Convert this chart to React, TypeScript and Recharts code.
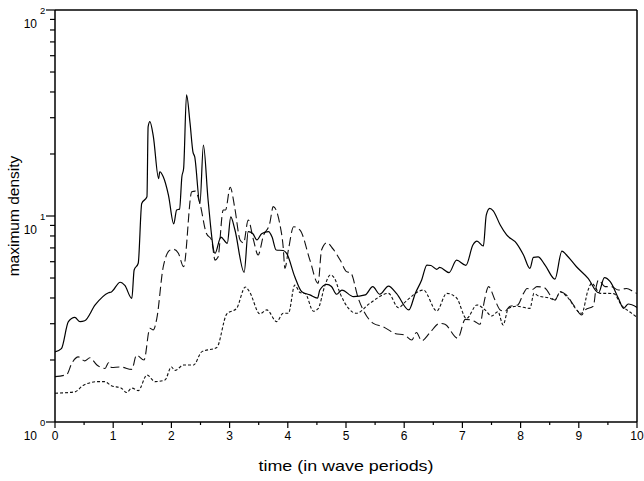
import React from 'react';
import { LineChart, Line, XAxis, YAxis, ReferenceLine, Label } from 'recharts';

// solid curve
const solidTime = [0, 0.11, 0.23, 0.34, 0.43, 0.51, 0.69, 0.92, 0.97, 1.12, 1.2, 1.32, 1.36, 1.43, 1.49, 1.58, 1.6, 1.63, 1.69, 1.78, 1.8, 1.86, 1.95, 2.04, 2.09, 2.14, 2.18, 2.21, 2.26, 2.32, 2.37, 2.4, 2.49, 2.55, 2.63, 2.75, 2.85, 2.96, 3.02, 3.09, 3.25, 3.32, 3.4, 3.47, 3.55, 3.67, 3.73, 3.8, 3.92, 3.98, 4.12, 4.24, 4.38, 4.51, 4.55, 4.67, 4.75, 4.84, 4.93, 5.13, 5.33, 5.46, 5.58, 5.73, 5.87, 6.08, 6.19, 6.3, 6.39, 6.46, 6.56, 6.61, 6.77, 6.9, 7.06, 7.18, 7.25, 7.36, 7.41, 7.47, 7.53, 7.65, 7.76, 7.93, 8.05, 8.16, 8.22, 8.3, 8.42, 8.59, 8.71, 8.78, 8.96, 9.16, 9.34, 9.44, 9.54, 9.68, 9.77, 9.85, 10];
const solidDensity = [2.19, 2.27, 3.07, 3.22, 3.07, 3.1, 3.7, 4.24, 4.28, 4.77, 4.6, 3.98, 5.47, 5.9, 11.5, 12.4, 27.1, 28.7, 24.3, 15.2, 16.4, 15.5, 12.6, 9.15, 10.7, 10.8, 15.5, 17.0, 38.7, 28.3, 20.5, 19.4, 11.5, 22.1, 12.0, 6.59, 7.9, 7.37, 9.9, 8.6, 5.33, 8.4, 8.2, 7.65, 8.2, 8.4, 7.9, 6.84, 6.8, 6.59, 5.07, 4.29, 4.14, 3.99, 4.37, 4.66, 4.55, 4.17, 4.37, 4.06, 4.14, 4.54, 4.17, 4.57, 4.2, 3.5, 4.21, 4.89, 5.78, 5.75, 5.51, 5.63, 5.31, 6.11, 5.76, 7.23, 7.55, 7.15, 10.1, 10.9, 10.6, 9.04, 8.09, 7.37, 6.47, 5.57, 6.3, 6.33, 5.78, 4.94, 6.76, 6.5, 5.67, 4.98, 4.24, 5.02, 4.8, 3.99, 3.56, 3.74, 3.6];

// dashed curve
const dashedTime = [0, 0.2, 0.29, 0.4, 0.51, 0.6, 0.72, 0.86, 0.92, 0.97, 1.12, 1.32, 1.4, 1.53, 1.63, 1.69, 1.75, 1.86, 1.98, 2.04, 2.12, 2.21, 2.35, 2.41, 2.49, 2.6, 2.69, 2.75, 2.8, 2.89, 2.93, 3.01, 3.09, 3.18, 3.24, 3.32, 3.41, 3.49, 3.58, 3.69, 3.75, 3.86, 3.92, 3.95, 4.01, 4.1, 4.21, 4.38, 4.52, 4.58, 4.67, 4.78, 4.9, 5.01, 5.08, 5.21, 5.47, 5.64, 5.84, 6.01, 6.13, 6.21, 6.3, 6.44, 6.61, 6.7, 6.92, 7.05, 7.22, 7.3, 7.38, 7.45, 7.56, 7.65, 7.73, 7.82, 7.95, 8.05, 8.11, 8.2, 8.28, 8.4, 8.59, 8.68, 8.78, 8.93, 9.05, 9.11, 9.25, 9.3, 9.34, 9.45, 9.56, 9.68, 9.82, 9.94, 10];
const dashedDensity = [1.66, 1.7, 1.93, 2.07, 1.98, 2.05, 1.89, 1.82, 1.94, 1.84, 1.85, 1.8, 2.11, 2.0, 2.85, 2.8, 3.19, 5.67, 6.84, 6.89, 6.59, 5.67, 13.1, 13.2, 11.5, 8.24, 7.65, 6.11, 6.3, 10.7, 10.7, 13.8, 10.9, 7.65, 7.4, 9.57, 7.65, 6.47, 8.0, 9.22, 11.1, 9.22, 7.1, 5.57, 6.84, 8.87, 8.55, 6.11, 4.71, 6.84, 7.42, 6.9, 6.11, 5.37, 5.3, 3.99, 3.01, 2.9, 2.69, 2.64, 2.5, 2.72, 2.48, 2.71, 3.01, 2.98, 2.55, 3.15, 3.07, 2.98, 3.91, 4.54, 3.91, 3.5, 3.45, 3.65, 3.7, 4.21, 4.45, 4.4, 4.54, 4.5, 3.91, 4.29, 4.15, 3.63, 3.31, 3.5, 3.65, 4.54, 4.89, 4.54, 4.54, 4.37, 4.45, 4.29, 4.2];

// dotted curve
const dottedTime = [0, 0.34, 0.49, 0.74, 0.85, 0.97, 1.14, 1.23, 1.32, 1.43, 1.58, 1.72, 1.89, 2.0, 2.06, 2.21, 2.38, 2.52, 2.78, 2.95, 3.12, 3.27, 3.34, 3.52, 3.64, 3.81, 3.92, 4.01, 4.12, 4.21, 4.3, 4.44, 4.52, 4.64, 4.73, 4.8, 4.9, 5.18, 5.41, 5.73, 5.9, 6.04, 6.33, 6.56, 6.73, 6.9, 7.07, 7.25, 7.39, 7.5, 7.61, 7.7, 7.79, 7.93, 8.16, 8.23, 8.3, 8.5, 8.59, 8.68, 8.78, 9.05, 9.16, 9.22, 9.37, 9.48, 9.6, 9.73, 9.91, 10];
const dottedDensity = [1.38, 1.4, 1.51, 1.57, 1.57, 1.5, 1.46, 1.39, 1.46, 1.42, 1.69, 1.57, 1.6, 1.85, 1.78, 1.89, 1.89, 2.19, 2.3, 3.34, 3.56, 4.52, 4.3, 3.35, 3.5, 3.07, 3.37, 3.37, 4.62, 4.25, 4.2, 3.45, 3.55, 4.62, 5.17, 5.0, 4.2, 3.37, 3.77, 4.21, 3.59, 3.88, 4.37, 3.46, 4.21, 4.0, 3.18, 3.7, 3.5, 3.27, 3.43, 2.96, 3.56, 3.65, 3.56, 4.21, 4.1, 3.99, 3.9, 4.29, 4.1, 3.37, 4.37, 4.71, 4.21, 4.21, 4.2, 3.7, 3.37, 3.22];

const xTicks = [0, 0.5, 1, 1.5, 2, 2.5, 3, 3.5, 4, 4.5, 5, 5.5, 6, 6.5, 7, 7.5, 8, 8.5, 9, 9.5, 10];
const yTicks = [1, 2, 3, 4, 5, 6, 7, 8, 9, 10, 20, 30, 40, 50, 60, 70, 80, 90, 100];
const yMajor = [1, 10, 100];

const FONT = '"Liberation Sans", Arial, Helvetica, sans-serif';

const toRows = (ts: number[], vs: number[]) => ts.map((t, i) => ({ t, v: vs[i] }));

const XTick = (props: any) => {
  const { x, y, payload } = props;
  const major = Number.isInteger(payload.value);
  return (
    <g>
      <line x1={x} x2={x} y1={y} y2={y + (major ? 6 : 3)} stroke="#000" strokeWidth={1.2} />
      {major && (
        <text x={x} y={y + 18} textAnchor="middle" fontSize={12} fontFamily={FONT} fill="#000">
          {payload.value}
        </text>
      )}
    </g>
  );
};

const YTick = (props: any) => {
  const { x, y, payload } = props;
  const major = yMajor.includes(payload.value);
  return (
    <g>
      <line x1={x - (major ? 9 : 5)} x2={x} y1={y} y2={y} stroke="#000" strokeWidth={1.2} />
      {major && (
        <g fontFamily={FONT} fill="#000">
          <text x={x - 18} y={y + 18} textAnchor="end" fontSize={12}>10</text>
          <text x={x - 15} y={y + 4} textAnchor="start" fontSize={9.5}>
            {Math.round(Math.log10(payload.value))}
          </text>
        </g>
      )}
    </g>
  );
};

const App: React.FC = () => {
  return (
    <div style={{ position: 'absolute', left: 0, top: 0, background: '#fff', fontFamily: FONT }}>
      <LineChart width={644} height={481} margin={{ top: 10, right: 7, bottom: 0, left: 0 }}>
        <XAxis
          type="number"
          dataKey="t"
          domain={[0, 10]}
          ticks={xTicks}
          interval={0}
          allowDataOverflow
          height={59}
          tickSize={0}
          tickMargin={0}
          tick={<XTick />}
          axisLine={{ stroke: '#000', strokeWidth: 1.5 }}
        >
          <Label
            content={() => (
              <text
                x={346}
                y={471}
                textAnchor="middle"
                fontSize={15}
                fontFamily={FONT}
                fill="#000"
                textLength={175}
                lengthAdjust="spacingAndGlyphs"
              >
                time (in wave periods)
              </text>
            )}
          />
        </XAxis>
        <YAxis
          type="number"
          scale="log"
          domain={[1, 100]}
          ticks={yTicks}
          interval={0}
          allowDataOverflow
          width={55}
          tickSize={0}
          tickMargin={0}
          tick={<YTick />}
          axisLine={{ stroke: '#000', strokeWidth: 1.5 }}
        >
          <Label
            content={() => (
              <text
                x={19}
                y={216}
                transform="rotate(-90 19 216)"
                textAnchor="middle"
                fontSize={15.5}
                fontFamily={FONT}
                fill="#000"
              >
                maximum density
              </text>
            )}
          />
        </YAxis>
        <ReferenceLine y={100} stroke="#000" strokeWidth={1.5} />
        <ReferenceLine x={10} stroke="#000" strokeWidth={1.5} />
        <Line
          data={toRows(dottedTime, dottedDensity)}
          dataKey="v"
          type="monotone"
          stroke="#111"
          strokeWidth={1.1}
          strokeDasharray="3 2"
          dot={false}
          isAnimationActive={false}
        />
        <Line
          data={toRows(dashedTime, dashedDensity)}
          dataKey="v"
          type="monotone"
          stroke="#111"
          strokeWidth={1.1}
          strokeDasharray="9 4"
          dot={false}
          isAnimationActive={false}
        />
        <Line
          data={toRows(solidTime, solidDensity)}
          dataKey="v"
          type="monotone"
          stroke="#000"
          strokeWidth={1.2}
          dot={false}
          isAnimationActive={false}
        />
      </LineChart>
    </div>
  );
};

export default App;
